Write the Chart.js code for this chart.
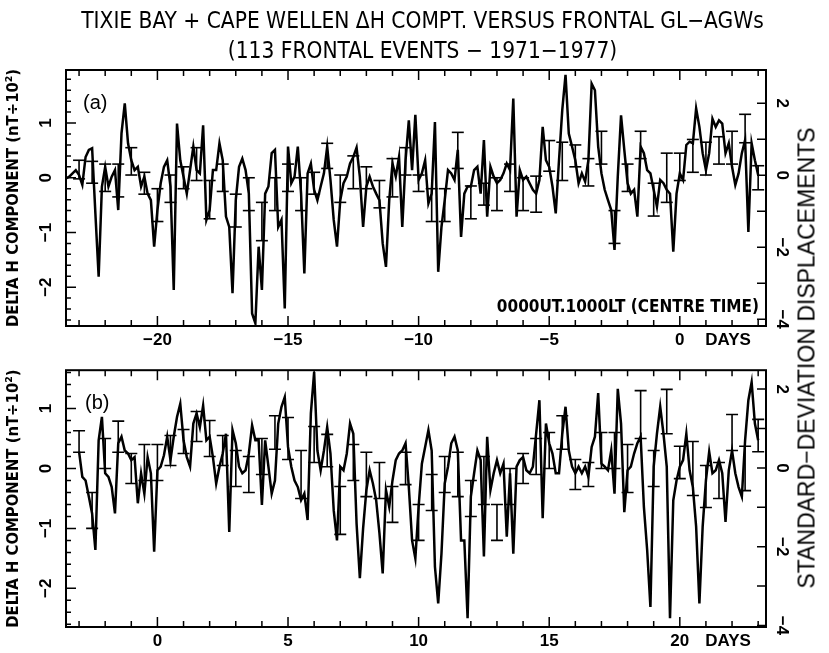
<!DOCTYPE html>
<html>
<head>
<meta charset="utf-8">
<script src="https://cdn.jsdelivr.net/npm/chart.js@4.4.1/dist/chart.umd.min.js"></script>
<style>
body { margin: 0; background: #fff; }
#wrap { position: relative; width: 829px; height: 653px; overflow: hidden; background: #fff; }
canvas { position: absolute; left: 0; }
.txt { position: absolute; color: #000; white-space: nowrap; z-index: 2; }
.narrow { font-family: "Liberation Sans Narrow", "DejaVu Sans Condensed", "Liberation Sans", sans-serif; }
</style>
</head>
<body>
<div id="wrap">
  <div class="txt narrow" style="left:8px; width:829px; text-align:center; top:7px; font-size:22.5px;">TIXIE BAY + CAPE WELLEN ΔH COMPT. VERSUS FRONTAL GL−AGWs</div>
  <div class="txt narrow" style="left:8px; width:829px; text-align:center; top:37px; font-size:22.5px;">(113 FRONTAL EVENTS − 1971−1977)</div>
  <div class="txt" style="left:83px; top:91px; font:20px 'Liberation Sans', sans-serif;">(a)</div>
  <div class="txt" style="left:85px; top:391px; font:20px 'Liberation Sans', sans-serif;">(b)</div>
  <div class="txt narrow" style="right:70px; top:296px; font-size:17px; font-weight:bold;">0000UT.1000LT (CENTRE TIME)</div>
  <div class="txt" style="left:807px; top:358px; transform:translate(-50%,-50%) rotate(-90deg); font:23px 'Liberation Sans', sans-serif;">STANDARD−DEVIATION DISPLACEMENTS</div>
  <canvas id="panelA" width="829" height="350" style="top:0px"></canvas>
  <canvas id="panelB" width="829" height="303" style="top:350px"></canvas>
</div>
<script>
// 3-hourly composite, days relative to the frontal event
var stepDays = 0.125;

// panel (a): days -23.5 .. +3.0
var startA = -23.5;
var deltaA = [
  -0.01, 0.02, 0.08, 0.14, 0.05, -0.13, 0.38, 0.51, 0.54, -0.65,
  -1.81, -0.16, 0.20, -0.16, 0.02, 0.14, -0.59, 0.81, 1.36, 0.63,
  0.32, 0.14, 0.20, -0.16, 0.02, -0.29, -0.41, -1.26, -0.59, -0.10,
  0.20, 0.32, -0.16, -2.05, 0.99, 0.32, 0.02, -0.29, 0.14, 0.57,
  0.14, 0.08, 0.96, -0.77, -0.59, 0.14, 0.14, 0.63, 0.32, -0.71,
  -0.90, -2.11, -0.41, 0.20, 0.35, 0.14, -0.29, -2.48, -2.66, -1.26,
  -2.05, -0.29, -0.16, 0.45, 0.51, -0.90, -0.77, -2.39, 0.57, -0.10,
  0.02, 0.57, -0.29, -1.75, 0.08, 0.26, -0.22, -0.41, -0.16, 0.08,
  0.57, -0.04, -0.77, -1.26, -0.41, -0.10, 0.02, 0.26, 0.38, 0.55,
  0.02, -0.90, -0.16, 0.02, -0.16, -0.29, -0.41, -1.20, -1.63, -0.41,
  0.26, 0.02, 0.38, -0.90, 0.32, 1.05, 0.14, 1.15, -0.04, 0.08,
  0.32, -0.47, -0.29, 1.02, -1.72, -0.90, -0.41, 0.14, 0.08, -0.04,
  0.51, -1.08, -0.29, -0.16, -0.16, 0.14, 0.20, -0.29, 0.69, -0.71,
  0.20, 0.02, -0.10, -0.04, 0.08, 0.26, 0.14, 1.45, -0.71, 0.14,
  -0.04, 0.02, -0.10, -0.22, -0.29, -0.04, 0.93, 0.32, 0.20, -0.16,
  -0.65, 0.32, 1.24, 1.88, 0.81, 0.57, 0.32, -0.10, 0.08, -0.07,
  0.32, 1.72, 1.60, 0.57, 0.08, -0.22, -0.41, -0.59, -1.32, 0.02,
  1.14, 0.51, -0.10, -0.29, -0.22, -0.71, 0.57, 0.45, 0.14, 0.08,
  -0.22, -0.53, -0.04, -0.10, -0.22, -0.29, -1.35, -0.29, 0.08, -0.04,
  0.60, 0.66, 0.63, 1.27, 0.93, 0.45, 0.14, 0.45, 1.08, 0.93,
  1.05, 0.99, 0.45, 0.63, 0.20, -0.13, 0.08, 0.45, 0.69, -0.99,
  0.63, 0.32, 0.05
];
var errStartA = -23.0;
var errMidA = [
  0.15, 0.10, 0.00, -0.05, 0.30, -0.10, -0.50, -0.20, 0.00, 0.25,
  -0.40, 0.00, -0.60, -0.30, -0.80, -0.30, 0.00, -0.30, -0.10, 0.40,
  -0.20, 0.10, 0.00, -0.30, 0.00, 0.30, -0.10, -0.50, -0.50, 0.50,
  -0.45, -0.30, -0.30, 0.00, -0.30, -0.30, 0.40, 0.30, 0.40, 0.10,
  0.55, -0.90, 0.00, 0.60, -0.40, 0.00, 0.20, 0.40, 0.35, 0.50,
  0.55, 0.90, 0.00
];
var errHalfA = [
  0.17, 0.20, 0.25, 0.30, 0.25, 0.20, 0.30, 0.25, 0.20, 0.30,
  0.35, 0.25, 0.30, 0.30, 0.35, 0.30, 0.25, 0.30, 0.20, 0.23,
  0.25, 0.30, 0.20, 0.25, 0.35, 0.25, 0.15, 0.30, 0.30, 0.33,
  0.30, 0.20, 0.30, 0.25, 0.30, 0.33, 0.28, 0.35, 0.20, 0.25,
  0.30, 0.30, 0.25, 0.25, 0.30, 0.45, 0.25, 0.30, 0.30, 0.25,
  0.30, 0.26, 0.22
];

// panel (b): days -3.0 .. +23.0
var startB = -3.0;
var deltaB = [
  0.28, -0.14, -0.20, -0.47, -0.75, -1.36, 0.47, 0.86, -0.08, -0.14,
  -0.31, -0.75, 0.42, 0.53, 0.30, 0.25, 0.14, 0.19, -0.58, -0.08,
  -0.42, 0.19, -0.08, -1.39, -0.03, 0.03, 0.22, 0.53, 0.14, 0.53,
  0.86, 1.08, 0.47, 0.19, 0.03, 0.75, 0.92, 0.69, 1.05, 0.47,
  0.53, 0.19, -0.25, 0.03, 0.25, 0.58, -1.06, 0.64, 0.42, 0.03,
  -0.08, -0.03, 0.25, 0.72, 0.47, 0.47, -0.61, 0.47, 0.03, -0.42,
  -0.20, 0.75, 1.03, 1.19, 0.36, 0.03, -0.20, -0.31, -0.53, -0.42,
  -0.86, 0.92, 1.61, 0.30, -0.03, 0.30, 0.69, 0.25, -0.70, -1.20,
  0.03, -0.03, 0.25, 0.75, 0.58, -0.92, -1.83, -1.00, -0.36, -0.03,
  -0.25, -0.53, -1.08, -1.75, -0.36, -0.64, -0.20, 0.14, 0.25, 0.30,
  0.42, -0.31, -1.20, -1.50, -0.64, 0.08, 0.36, 0.64, 0.30, -1.64,
  -2.25, -1.42, -0.25, 0.03, 0.42, 0.53, 0.30, -1.20, -1.20, -2.50,
  -0.47, -0.08, 0.30, 0.14, -1.47, 0.53, -0.36, -0.08, 0.14, -0.08,
  0.08, -1.14, -0.08, -1.42, 0.03, 0.14, 0.19, -0.03, -0.08, 0.03,
  0.58, 1.14, -0.83, 0.75, 0.42, 0.25, -0.08, -0.08, 0.58, 1.03,
  0.30, 0.03, -0.08, 0.03, -0.08, 0.03, -0.14, 0.36, 0.53, 1.26,
  0.08, 0.03, -0.03, 0.30, -0.42, 1.33, 0.75, -0.73, -0.03, 0.03,
  0.25, 0.42, 0.53, -0.64, -1.36, -2.31, 0.03, 0.58, 1.03, 0.58,
  0.03, -2.50, -0.53, -0.20, 0.03, 0.14, 0.58, -0.03, -0.31, -0.97,
  -2.25, -0.97, -0.20, 0.28, -0.08, -0.03, 0.14, -0.08, -0.89, -0.03,
  0.30, -0.08, -0.31, -0.47, 0.47, 1.14, 1.44, 0.75, 0.47
];
var errStartB = -3.0;
var errMidB = [
  0.45, -0.70, 0.25, 0.53, 0.00, 0.10, 0.10, 0.30, 0.45, 0.70,
  0.50, 0.30, 0.00, -0.10, 0.20, 0.60, 0.50, -0.10, 0.40, 0.30,
  -0.70, 0.10, -0.10, -0.20, -0.60, 0.00, -0.90, -0.40, -0.10, -0.10,
  -0.50, -0.20, -0.90, -0.30, 0.00, 0.20, 0.30, 0.60, -0.10, -0.10,
  0.30, 0.30, 0.00, 0.90, 0.00, 0.95, 0.10, 0.00, -0.30, -0.20,
  0.60, 0.00, 0.55
];
var errHalfB = [
  0.18, 0.30, 0.25, 0.26, 0.25, 0.30, 0.30, 0.25, 0.20, 0.25,
  0.30, 0.25, 0.30, 0.30, 0.30, 0.28, 0.35, 0.40, 0.30, 0.27,
  0.40, 0.30, 0.37, 0.30, 0.30, 0.27, 0.30, 0.30, 0.30, 0.37,
  0.30, 0.40, 0.30, 0.30, 0.25, 0.30, 0.30, 0.28, 0.25, 0.20,
  0.30, 0.30, 0.40, 0.40, 0.30, 0.37, 0.27, 0.45, 0.35, 0.30,
  0.30, 0.37, 0.27
];

var xTicksA = [-20, -15, -10, -5, 0];
var xTicksB = [0, 5, 10, 15, 20];

var numFont = { family: "'Liberation Sans', sans-serif", size: 17, weight: 'bold' };
var narrowFont = { family: "'Liberation Sans Narrow', 'DejaVu Sans Condensed', sans-serif", size: 16.5, weight: 'bold' };

function fmt(v) {
  return v < 0 ? '\u2212' + Math.abs(v) : String(v);
}

// box and inward ticks on all four sides
var frameTicks = {
  id: 'frameTicks',
  afterDraw: function(chart) {
    var ctx = chart.ctx, a = chart.chartArea;
    var x = chart.scales.x, y = chart.scales.y, y1 = chart.scales.y1;
    ctx.save();
    ctx.strokeStyle = '#000';
    ctx.lineWidth = 2;
    ctx.strokeRect(a.left, a.top, a.right - a.left, a.bottom - a.top);
    ctx.lineWidth = 1.5;
    ctx.beginPath();
    for (var d = Math.ceil(x.min); d <= x.max; d++) {
      var px = x.getPixelForValue(d), len = (d % 5 === 0) ? 10 : 6;
      ctx.moveTo(px, a.top); ctx.lineTo(px, a.top + len);
      ctx.moveTo(px, a.bottom); ctx.lineTo(px, a.bottom - len);
    }
    for (var k = Math.ceil(y.min * 5); k <= y.max * 5; k++) {
      var py = y.getPixelForValue(k / 5), l = (k % 5 === 0) ? 10 : 5;
      ctx.moveTo(a.left, py); ctx.lineTo(a.left + l, py);
    }
    for (var j = Math.ceil(y1.min); j <= y1.max; j++) {
      var qy = y1.getPixelForValue(j);
      ctx.moveTo(a.right, qy); ctx.lineTo(a.right - 9, qy);
    }
    ctx.stroke();
    ctx.restore();
  }
};

function drawPanel(id, start, values, errStart, errMid, errHalf, p) {
  var line = values.map(function(v, i) { return { x: start + i * stepDays, y: v }; });
  var bars = [];
  errMid.forEach(function(m, k) {
    var d = errStart + k * 0.5;
    bars.push({ x: d, y: m - errHalf[k] });
    bars.push({ x: d, y: m + errHalf[k] });
    bars.push({ x: d, y: null });
  });

  new Chart(document.getElementById(id), {
    type: 'line',
    data: {
      datasets: [{
        data: line,
        borderColor: '#000',
        borderWidth: 2.5,
        pointRadius: 0,
        tension: 0,
        yAxisID: 'y'
      }, {
        data: bars,
        borderColor: '#000',
        borderWidth: 1.6,
        pointStyle: 'line',
        pointRadius: 6,
        pointBorderWidth: 1.6,
        pointBorderColor: '#000',
        spanGaps: false,
        yAxisID: 'y'
      }]
    },
    options: {
      responsive: false,
      animation: false,
      devicePixelRatio: 1,
      layout: { padding: { top: p.top, left: 0, right: 0, bottom: 0 } },
      plugins: { legend: { display: false }, tooltip: { enabled: false } },
      scales: {
        x: {
          type: 'linear',
          min: p.xmin,
          max: p.xmax,
          grid: { display: false, drawTicks: false },
          border: { display: false },
          afterBuildTicks: function(s) {
            s.ticks = p.xTicks.map(function(v) { return { value: v }; }).concat([{ value: p.daysAt }]);
          },
          afterFit: function(s) { s.height = p.xh; },
          ticks: {
            autoSkip: false,
            minRotation: 0,
            maxRotation: 0,
            padding: 4,
            color: '#000',
            font: numFont,
            callback: function(v, i, t) { return i === t.length - 1 ? 'DAYS' : fmt(v); }
          }
        },
        y: {
          position: 'left',
          min: p.ymin,
          max: p.ymax,
          grid: { display: false, drawTicks: false },
          border: { display: false },
          afterFit: function(s) { s.width = 66; },
          ticks: {
            stepSize: 1,
            includeBounds: false,
            minRotation: 90,
            maxRotation: 90,
            crossAlign: 'center',
            padding: 10,
            color: '#000',
            font: numFont,
            callback: fmt
          },
          title: {
            display: true,
            text: 'DELTA H COMPONENT (nT÷10²)',
            color: '#000',
            font: narrowFont,
            padding: { top: 4, bottom: 0 }
          }
        },
        y1: {
          position: 'right',
          min: p.y1min,
          max: p.y1max,
          grid: { display: false, drawTicks: false },
          border: { display: false },
          afterFit: function(s) { s.width = 63; },
          ticks: {
            stepSize: 2,
            includeBounds: false,
            minRotation: -90,
            maxRotation: -90,
            crossAlign: 'center',
            padding: 6,
            color: '#000',
            font: numFont,
            callback: fmt
          }
        }
      }
    },
    plugins: [frameTicks]
  });
}

drawPanel('panelA', startA, deltaA, errStartA, errMidA, errHalfA, {
  top: 70, xh: 24, xmin: -23.5, xmax: 3.3, xTicks: xTicksA, daysAt: 1.85,
  ymin: -2.71, ymax: 1.97, y1min: -4.19, y1max: 2.92
});
drawPanel('panelB', startB, deltaB, errStartB, errMidB, errHalfB, {
  top: 20, xh: 26, xmin: -3.5, xmax: 23.3, xTicks: xTicksB, daysAt: 21.85,
  ymin: -2.645, ymax: 1.64, y1min: -4.04, y1max: 2.48
});
</script>
</body>
</html>
